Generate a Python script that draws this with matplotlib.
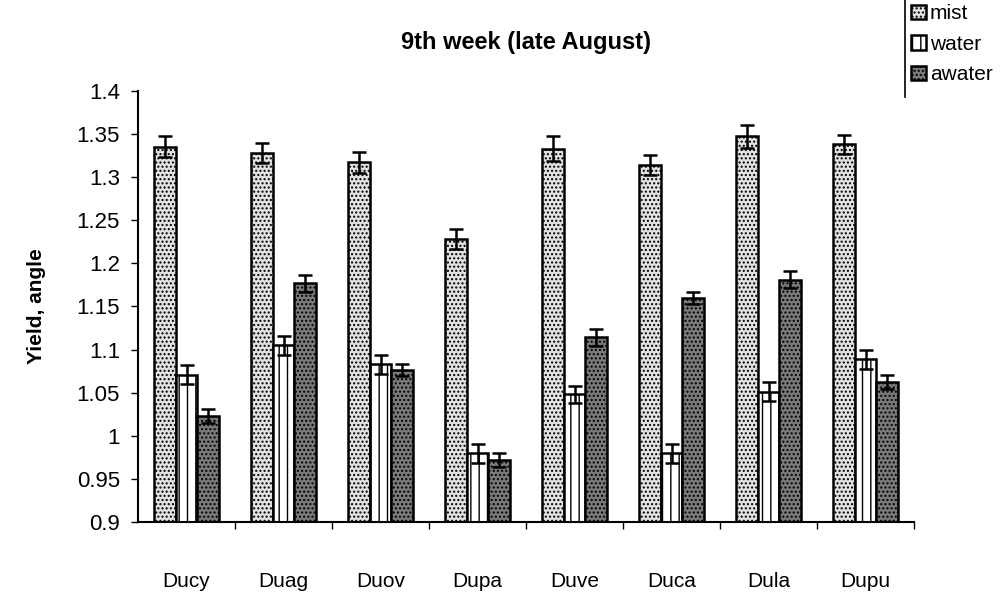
import matplotlib
matplotlib.use("Agg")
import matplotlib.pyplot as plt
import numpy as np

plt.rcParams['font.family'] = ['Liberation Sans', 'DejaVu Sans']
plt.rcParams['hatch.linewidth'] = 1.0
plt.rcParams['hatch.color'] = 'black'

# datos
cultivares = ["Ducy", "Duag", "Duov", "Dupa", "Duve", "Duca", "Dula", "Dupu"]
mist = [1.335, 1.328, 1.317, 1.228, 1.333, 1.314, 1.347, 1.338]
water = [1.071, 1.105, 1.083, 0.980, 1.048, 0.980, 1.051, 1.089]
awater = [1.023, 1.177, 1.076, 0.972, 1.114, 1.160, 1.181, 1.062]
err_mist = [0.012, 0.012, 0.012, 0.012, 0.014, 0.012, 0.013, 0.011]
err_water = [0.011, 0.011, 0.011, 0.011, 0.010, 0.011, 0.011, 0.011]
err_awater = [0.008, 0.010, 0.007, 0.008, 0.010, 0.007, 0.010, 0.008]
yticks = [0.9, 0.95, 1.0, 1.05, 1.1, 1.15, 1.2, 1.25, 1.3, 1.35, 1.4]
ytick_labels = ["0.9", "0.95", "1", "1.05", "1.1", "1.15", "1.2", "1.25", "1.3", "1.35", "1.4"]

fig = plt.figure(figsize=(10, 6.05), dpi=100)
ax = fig.add_axes([0.138, 0.137, 0.776, 0.713])

x = np.arange(len(cultivares))
ancho = 0.22
estilo_err = dict(ecolor="black", elinewidth=1.8, capsize=5, capthick=1.8)

ax.bar(x - ancho, mist, ancho, color="#e2e2e2", edgecolor="black",
       linewidth=1.8, hatch="....", label="mist", yerr=err_mist, error_kw=estilo_err)
ax.bar(x, water, ancho, color="white", edgecolor="black",
       linewidth=1.8, hatch="||", label="water", yerr=err_water, error_kw=estilo_err)
ax.bar(x + ancho, awater, ancho, color="#7a7a7a", edgecolor="black",
       linewidth=1.8, hatch="....", label="awater", yerr=err_awater, error_kw=estilo_err)

ax.set_ylim(0.9, 1.4)
ax.set_xlim(-0.5, len(cultivares) - 0.5)
ax.set_yticks(yticks)
ax.set_yticklabels(ytick_labels, fontsize=16)
ax.set_xticks(x)
ax.set_xticklabels(cultivares, fontsize=15)
ax.set_xticks(np.arange(len(cultivares)) + 0.5, minor=True)
ax.tick_params(axis="x", which="major", length=0, pad=36)
ax.tick_params(axis="x", which="minor", length=5, direction="out", width=1)
ax.tick_params(axis="y", length=5, direction="out", width=1, pad=8)

ax.spines["top"].set_visible(False)
ax.spines["right"].set_visible(False)
ax.spines["left"].set_linewidth(1.5)
ax.spines["bottom"].set_linewidth(1.5)

ax.set_title("9th week (late August)", fontsize=17, fontweight="bold", pad=30)
ax.set_ylabel("Yield, angle", fontsize=15, fontweight="bold", labelpad=22)

ax.legend(loc="upper left", bbox_to_anchor=(0.905, 1.003), bbox_transform=fig.transFigure,
          fontsize=15, frameon=False,
          handlelength=0.7, handleheight=0.7, handletextpad=0.2, labelspacing=0.55,
          borderpad=0.3, borderaxespad=0)
# borde izquierdo de la leyenda (el resto queda fuera de la imagen)
fig.add_artist(plt.Line2D([0.905, 0.905], [1.0, 0.84], transform=fig.transFigure,
                          color="black", linewidth=1.2))

plt.savefig("out.png", dpi=100)
